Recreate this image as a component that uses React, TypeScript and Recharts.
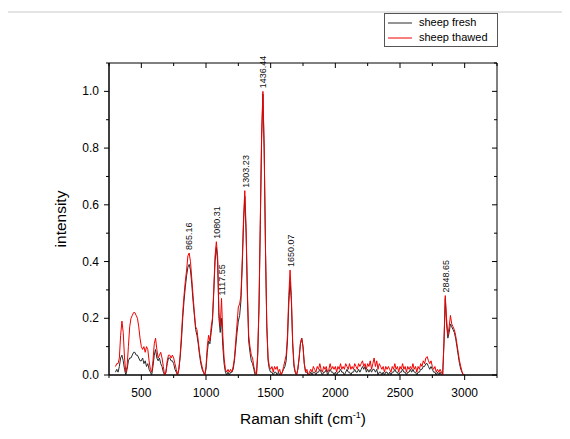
import React from 'react';
import {
  ComposedChart, Line, XAxis, YAxis, ReferenceArea, ReferenceDot, Legend, Label,
} from 'recharts';

// Raman shift (cm-1), sampled every 10
const shifts: number[] = [];
for (let s = 300; s <= 3000; s += 10) shifts.push(s);

// intensity, sheep fresh
const fresh = [
  0.01, 0.02, 0.01, 0.03, 0.06, 0.07, 0.05, 0.02, 0.00, 0.02, // 300-390
  0.05, 0.06, 0.06, 0.07, 0.08, 0.08, 0.07, 0.07, 0.06, 0.05, // 400-490
  0.05, 0.06, 0.04, 0.05, 0.03, 0.04, 0.02, 0.01, 0.00, 0.03, // 500-590
  0.07, 0.09, 0.06, 0.05, 0.06, 0.04, 0.03, 0.01, 0.00, 0.01, // 600-690
  0.04, 0.06, 0.06, 0.05, 0.05, 0.04, 0.02, 0.01, 0.00, 0.02, // 700-790
  0.06, 0.12, 0.20, 0.26, 0.31, 0.35, 0.38, 0.39, 0.37, 0.32, // 800-890
  0.26, 0.21, 0.16, 0.14, 0.11, 0.07, 0.04, 0.02, 0.01, 0.00, // 900-990
  0.02, 0.08, 0.12, 0.11, 0.15, 0.19, 0.29, 0.40, 0.45, 0.40, // 1000-1090
  0.20, 0.15, 0.20, 0.10, 0.04, 0.01, 0.00, 0.01, 0.00, 0.01, // 1100-1190
  0.01, 0.02, 0.05, 0.10, 0.15, 0.19, 0.21, 0.26, 0.38, 0.53, // 1200-1290
  0.63, 0.50, 0.28, 0.12, 0.08, 0.05, 0.04, 0.02, 0.00, 0.00, // 1300-1390
  0.07, 0.24, 0.53, 0.83, 0.99, 0.79, 0.44, 0.17, 0.05, 0.02, // 1400-1490
  0.01, 0.01, 0.00, 0.01, 0.01, 0.00, 0.01, 0.00, 0.00, 0.01, // 1500-1590
  0.02, 0.03, 0.05, 0.12, 0.25, 0.33, 0.26, 0.11, 0.03, 0.01, // 1600-1690
  0.00, 0.02, 0.06, 0.11, 0.13, 0.10, 0.04, 0.01, 0.01, 0.00, // 1700-1790
  0.00, 0.01, 0.00, 0.01, 0.01, 0.00, 0.01, 0.01, 0.02, 0.01, // 1800-1890
  0.00, 0.01, 0.01, 0.02, 0.00, 0.01, 0.02, 0.01, 0.01, 0.00, // 1900-1990
  0.01, 0.00, 0.01, 0.01, 0.02, 0.01, 0.01, 0.00, 0.01, 0.02, // 2000-2090
  0.01, 0.01, 0.00, 0.01, 0.01, 0.02, 0.01, 0.01, 0.02, 0.01, // 2100-2190
  0.02, 0.03, 0.02, 0.03, 0.01, 0.02, 0.01, 0.02, 0.01, 0.02, // 2200-2290
  0.02, 0.01, 0.02, 0.00, 0.01, 0.01, 0.00, 0.01, 0.00, 0.01, // 2300-2390
  0.01, 0.00, 0.01, 0.00, 0.01, 0.01, 0.02, 0.01, 0.01, 0.00, // 2400-2490
  0.01, 0.01, 0.02, 0.01, 0.01, 0.00, 0.01, 0.01, 0.02, 0.01, // 2500-2590
  0.02, 0.01, 0.01, 0.00, 0.01, 0.01, 0.02, 0.02, 0.03, 0.03, // 2600-2690
  0.04, 0.04, 0.03, 0.02, 0.03, 0.02, 0.01, 0.01, 0.00, 0.01, // 2700-2790
  0.00, 0.01, 0.00, 0.00, 0.11, 0.27, 0.18, 0.13, 0.15, 0.18, // 2800-2890
  0.17, 0.16, 0.15, 0.13, 0.10, 0.07, 0.04, 0.02, 0.01, 0.00, // 2900-2990
  0.00,                                                       // 3000
];

// intensity, sheep thawed
const thawed = [
  0.03, 0.04, 0.04, 0.06, 0.14, 0.19, 0.15, 0.06, 0.01, 0.03, // 300-390
  0.10, 0.17, 0.20, 0.21, 0.22, 0.22, 0.21, 0.20, 0.17, 0.13, // 400-490
  0.10, 0.09, 0.10, 0.08, 0.10, 0.09, 0.05, 0.02, 0.01, 0.05, // 500-590
  0.11, 0.13, 0.09, 0.06, 0.07, 0.08, 0.06, 0.03, 0.00, 0.01, // 600-690
  0.05, 0.07, 0.07, 0.06, 0.07, 0.06, 0.04, 0.02, 0.00, 0.02, // 700-790
  0.07, 0.14, 0.22, 0.28, 0.33, 0.37, 0.42, 0.43, 0.40, 0.34, // 800-890
  0.28, 0.22, 0.17, 0.16, 0.12, 0.08, 0.05, 0.03, 0.01, 0.00, // 900-990
  0.03, 0.10, 0.14, 0.12, 0.17, 0.20, 0.30, 0.42, 0.47, 0.42, // 1000-1090
  0.22, 0.17, 0.27, 0.14, 0.06, 0.02, 0.01, 0.02, 0.01, 0.02, // 1100-1190
  0.01, 0.03, 0.06, 0.12, 0.18, 0.24, 0.25, 0.28, 0.40, 0.55, // 1200-1290
  0.65, 0.52, 0.30, 0.14, 0.10, 0.07, 0.06, 0.03, 0.01, 0.00, // 1300-1390
  0.08, 0.25, 0.55, 0.85, 1.00, 0.80, 0.45, 0.18, 0.06, 0.03, // 1400-1490
  0.02, 0.03, 0.01, 0.03, 0.02, 0.03, 0.01, 0.02, 0.00, 0.01, // 1500-1590
  0.03, 0.05, 0.07, 0.14, 0.28, 0.37, 0.28, 0.12, 0.04, 0.01, // 1600-1690
  0.00, 0.02, 0.06, 0.11, 0.13, 0.10, 0.04, 0.01, 0.02, 0.00, // 1700-1790
  0.01, 0.02, 0.01, 0.03, 0.02, 0.01, 0.03, 0.02, 0.04, 0.02, // 1800-1890
  0.01, 0.03, 0.02, 0.03, 0.01, 0.02, 0.04, 0.02, 0.03, 0.02, // 1900-1990
  0.03, 0.01, 0.03, 0.02, 0.04, 0.02, 0.03, 0.02, 0.04, 0.03, // 2000-2090
  0.02, 0.04, 0.02, 0.03, 0.02, 0.04, 0.03, 0.02, 0.04, 0.03, // 2100-2190
  0.04, 0.05, 0.03, 0.04, 0.02, 0.04, 0.03, 0.05, 0.02, 0.04, // 2200-2290
  0.06, 0.03, 0.05, 0.02, 0.04, 0.03, 0.02, 0.03, 0.01, 0.03, // 2300-2390
  0.02, 0.03, 0.02, 0.01, 0.03, 0.02, 0.04, 0.02, 0.03, 0.01, // 2400-2490
  0.03, 0.02, 0.04, 0.02, 0.03, 0.01, 0.03, 0.02, 0.03, 0.02, // 2500-2590
  0.04, 0.02, 0.03, 0.01, 0.03, 0.02, 0.04, 0.03, 0.05, 0.04, // 2600-2690
  0.06, 0.065, 0.05, 0.04, 0.05, 0.03, 0.02, 0.03, 0.01, 0.02, // 2700-2790
  0.01, 0.02, 0.01, 0.00, 0.12, 0.28, 0.20, 0.14, 0.17, 0.21, // 2800-2890
  0.18, 0.17, 0.16, 0.14, 0.11, 0.08, 0.05, 0.03, 0.01, 0.00, // 2900-2990
  0.00,                                                       // 3000
];

// annotated peaks
const peakShifts = [865.16, 1080.31, 1117.55, 1303.23, 1436.44, 1650.07, 2848.65];
const peakHeights = [0.43, 0.47, 0.27, 0.65, 1.0, 0.37, 0.28];

const xTicks = [250, 500, 750, 1000, 1250, 1500, 1750, 2000, 2250, 2500, 2750, 3000, 3250];
const yTicks = [0, 0.1, 0.2, 0.3, 0.4, 0.5, 0.6, 0.7, 0.8, 0.9, 1.0, 1.1];

const data = shifts.map((x, i) => ({ x, fresh: fresh[i], thawed: thawed[i] }));

const W = 570;
const H = 439;
const PLOT = { left: 109, top: 63, right: 497, bottom: 375 };
const FONT = '"Liberation Sans", Arial, sans-serif';
const FRESH_COLOR = '#2a2a2a';
const THAWED_COLOR = '#f20000';

const XTick = (props: any) => {
  const { x, y, payload } = props;
  const v = payload.value;
  const major = v % 500 === 0;
  const len = major ? 5 : 3;
  return (
    <g>
      <line x1={x} y1={y} x2={x} y2={y + len} stroke="#000" />
      <line x1={x} y1={PLOT.top} x2={x} y2={PLOT.top + len} stroke="#000" />
      {major && (
        <text x={x} y={y + 22} textAnchor="middle" fontSize={12} fill="#000" fontFamily={FONT}>
          {v}
        </text>
      )}
    </g>
  );
};

const YTick = (props: any) => {
  const { x, y, payload } = props;
  const v = payload.value;
  const major = Math.round(v * 10) % 2 === 0 && v < 1.05;
  const len = major ? 5 : 3;
  return (
    <g>
      <line x1={x - len} y1={y} x2={x} y2={y} stroke="#000" />
      <line x1={PLOT.right - len} y1={y} x2={PLOT.right} y2={y} stroke="#000" />
      {major && (
        <text x={x - 10} y={y + 4} textAnchor="end" fontSize={12} fill="#000" fontFamily={FONT}>
          {v.toFixed(1)}
        </text>
      )}
    </g>
  );
};

const PeakLabel = (text: string) => (props: any) => {
  const { viewBox } = props;
  const cx = viewBox.x + viewBox.width / 2;
  const cy = viewBox.y - 3;
  return (
    <text
      x={cx + 3.5}
      y={cy}
      transform={`rotate(-90, ${cx + 3.5}, ${cy})`}
      fontSize={9}
      fill="#111"
      fontFamily={FONT}
    >
      {text}
    </text>
  );
};

const legendItems = [
  { name: 'sheep fresh', color: FRESH_COLOR },
  { name: 'sheep thawed', color: THAWED_COLOR },
];

const renderLegend = () => (
  <div
    style={{
      border: '1px solid #555', background: '#fff', width: 114, height: 34,
      fontFamily: FONT, fontSize: 11, lineHeight: '15px', boxSizing: 'border-box', paddingTop: 1,
    }}
  >
    {legendItems.map((s) => (
      <div key={s.name} style={{ display: 'flex', alignItems: 'center' }}>
        <svg width={30} height={15} style={{ marginLeft: 2, marginRight: 2 }}>
          <line x1={1} y1={8} x2={25} y2={8} stroke={s.color} strokeWidth={1} />
        </svg>
        <span style={{ color: '#000' }}>{s.name}</span>
      </div>
    ))}
  </div>
);

export default function App() {
  return (
    <div style={{ position: 'relative', width: W, height: H, margin: -8, background: '#fff', overflow: 'hidden', fontFamily: FONT }}>
      <div style={{ position: 'absolute', left: 6, top: 11, width: 700, height: 600, borderTop: '2px solid #e4e4e4', borderLeft: '2px solid #e4e4e4' }} />
      <div style={{ position: 'absolute', left: 0, top: 0 }}>
        <ComposedChart
          width={W}
          height={H}
          data={data}
          margin={{ top: PLOT.top, right: W - PLOT.right, bottom: 0, left: 0 }}
        >
          <XAxis
            dataKey="x"
            type="number"
            domain={[250, 3250]}
            ticks={xTicks}
            interval={0}
            height={H - PLOT.bottom}
            tickSize={0}
            tickMargin={0}
            tickLine={false}
            tick={<XTick />}
            axisLine={{ stroke: '#000' }}
            allowDataOverflow
          >
            <Label
              content={(p: any) => {
                const vb = p.viewBox;
                const cx = vb.x + vb.width / 2;
                return (
                  <text x={cx} y={vb.y + 49} textAnchor="middle" fontSize={15.5} fill="#000" fontFamily={FONT}>
                    Raman shift (cm
                    <tspan fontSize={9} dy={-6}>-1</tspan>
                    <tspan dy={6}>)</tspan>
                  </text>
                );
              }}
            />
          </XAxis>
          <YAxis
            type="number"
            domain={[0, 1.1]}
            ticks={yTicks}
            interval={0}
            width={PLOT.left}
            tickSize={0}
            tickMargin={0}
            tickLine={false}
            tick={<YTick />}
            axisLine={{ stroke: '#000' }}
            allowDataOverflow
          >
            <Label
              content={(p: any) => {
                const vb = p.viewBox;
                const cy = vb.y + vb.height / 2;
                const cx = vb.x + 66;
                return (
                  <text x={cx} y={cy} transform={`rotate(-90, ${cx}, ${cy})`} textAnchor="middle" fontSize={15.5} fill="#000" fontFamily={FONT}>
                    intensity
                  </text>
                );
              }}
            />
          </YAxis>
          <ReferenceArea x1={250} x2={3250} y1={0} y2={1.1} fill="none" stroke="#000" strokeWidth={1} />
          <Line
            type="linear"
            dataKey="fresh"
            name="sheep fresh"
            stroke={FRESH_COLOR}
            strokeWidth={1}
            dot={false}
            isAnimationActive={false}
          />
          <Line
            type="linear"
            dataKey="thawed"
            name="sheep thawed"
            stroke={THAWED_COLOR}
            strokeWidth={1}
            dot={false}
            isAnimationActive={false}
          />
          {peakShifts.map((px, i) => (
            <ReferenceDot
              key={px}
              x={px}
              y={peakHeights[i]}
              r={0}
              fill="none"
              stroke="none"
              label={PeakLabel(px.toFixed(2))}
            />
          ))}
          <Legend
            layout="vertical"
            align="center"
            verticalAlign="middle"
            content={renderLegend}
            wrapperStyle={{ position: 'absolute', left: 384, top: 13, width: 114 }}
          />
        </ComposedChart>
      </div>
    </div>
  );
}
